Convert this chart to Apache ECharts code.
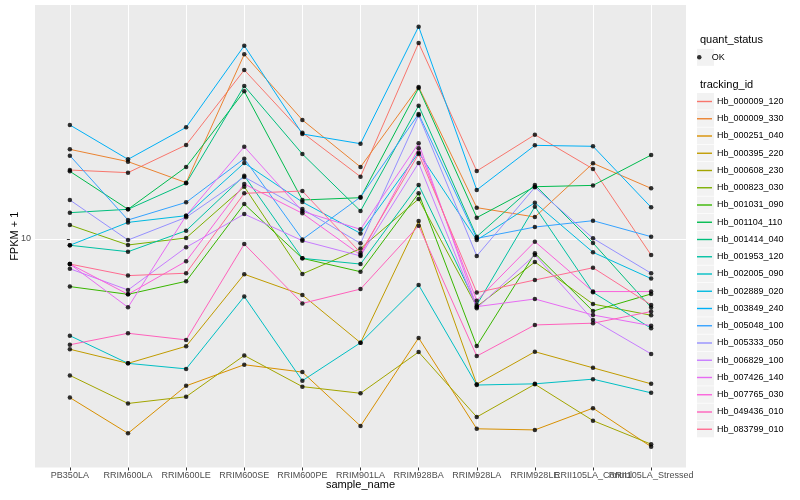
<!DOCTYPE html>
<html><head><meta charset="utf-8">
<script src="https://cdn.jsdelivr.net/npm/echarts@6/dist/echarts.min.js"></script>
<style>html,body{margin:0;padding:0;background:#fff}#c{width:800px;height:500px}</style>
</head><body><div id="c"></div>
<script>
const categories = ['PB350LA','RRIM600LA','RRIM600LE','RRIM600SE','RRIM600PE','RRIM901LA','RRIM928BA','RRIM928LA','RRIM928LE','RRII105LA_Control','RRII105LA_Stressed'];
const trackingIds = ['Hb_000009_120','Hb_000009_330','Hb_000251_040','Hb_000395_220','Hb_000608_230','Hb_000823_030','Hb_001031_090','Hb_001104_110','Hb_001414_040','Hb_001953_120','Hb_002005_090','Hb_002889_020','Hb_003849_240','Hb_005048_100','Hb_005333_050','Hb_006829_100','Hb_007426_140','Hb_007765_030','Hb_049436_010','Hb_083799_010'];
const lineColors = ['#F8766D','#EA8331','#D89000','#C09B00','#A3A500','#7CAE00','#39B600','#00BB4E','#00BF7D','#00C1A3','#00BFC4','#00BAE0','#00B0F6','#35A2FF','#9590FF','#C77CFF','#E76BF3','#FA62DB','#FF62BC','#FF6C91'];
const quantStatus = ['OK'];

// FPKM + 1 per sample (order of categories)
const hb_000009_120 = [16.98, 16.64, 20.58, 36.60, 22.62, 16.13, 45.01, 16.85, 22.27, 17.12, 8.84];
const hb_000009_330 = [19.90, 18.11, 15.41, 41.26, 24.93, 17.38, 32.11, 12.72, 11.84, 17.88, 14.75];
const hb_000251_040 = [2.96, 2.25, 3.24, 3.81, 3.60, 2.38, 4.68, 2.33, 2.31, 2.73, 2.03];
const hb_000395_220 = [4.29, 3.85, 4.39, 7.63, 6.51, 4.51, 11.48, 3.28, 4.21, 3.72, 3.29];
const hb_000608_230 = [3.51, 2.83, 2.98, 4.09, 3.22, 3.06, 4.20, 2.55, 3.28, 2.48, 2.07];
const hb_000823_030 = [11.13, 9.55, 10.08, 14.94, 7.65, 9.29, 13.60, 5.95, 8.38, 6.07, 5.57];
const hb_001031_090 = [6.94, 6.54, 7.23, 13.08, 8.62, 7.78, 14.20, 4.40, 8.96, 5.75, 6.56];
const hb_001104_110 = [16.81, 12.56, 17.38, 31.06, 13.49, 13.73, 31.86, 11.78, 14.94, 15.09, 19.05];
const hb_001414_040 = [12.24, 12.56, 15.33, 32.36, 19.20, 12.40, 27.83, 10.18, 15.14, 9.70, 5.91];
const hb_001953_120 = [9.53, 9.07, 10.66, 16.26, 8.62, 8.25, 15.14, 6.03, 12.82, 6.64, 5.04];
const hb_002005_090 = [4.76, 3.85, 3.69, 6.43, 3.37, 4.51, 7.03, 3.26, 3.29, 3.41, 3.07];
const hb_002889_020 = [9.53, 11.36, 11.96, 17.92, 13.28, 10.44, 19.40, 9.92, 13.21, 9.03, 7.38];
const hb_003849_240 = [23.99, 18.43, 23.56, 44.10, 22.39, 20.78, 51.04, 14.57, 20.52, 20.37, 12.75];
const hb_005048_100 = [18.96, 11.57, 13.25, 18.53, 9.97, 13.80, 26.10, 10.05, 10.96, 11.51, 10.18];
const hb_005333_050 = [13.49, 9.92, 11.81, 16.09, 12.59, 9.67, 25.84, 8.78, 14.87, 10.05, 7.69];
const hb_006829_100 = [7.96, 6.76, 9.38, 12.11, 9.87, 8.78, 17.92, 5.88, 8.85, 5.37, 4.14];
const hb_007426_140 = [8.25, 5.92, 11.96, 20.31, 12.37, 10.77, 20.84, 5.95, 6.31, 5.58, 5.14];
const hb_007765_030 = [8.25, 6.54, 8.43, 15.25, 12.18, 8.85, 20.05, 6.23, 9.80, 6.68, 6.68];
const hb_049436_010 = [4.44, 4.85, 4.61, 9.62, 6.10, 6.81, 11.08, 4.07, 5.17, 5.24, 5.73];
const hb_083799_010 = [8.25, 7.55, 7.69, 14.20, 14.45, 9.00, 19.20, 6.63, 7.30, 8.02, 6.03];

const seriesValues = [hb_000009_120, hb_000009_330, hb_000251_040, hb_000395_220, hb_000608_230, hb_000823_030, hb_001031_090, hb_001104_110, hb_001414_040, hb_001953_120, hb_002005_090, hb_002889_020, hb_003849_240, hb_005048_100, hb_005333_050, hb_006829_100, hb_007426_140, hb_007765_030, hb_049436_010, hb_083799_010];
const yTicks = [10];

const FONT = 'Liberation Sans, Arial, sans-serif';
const catIdx = categories.map((c, i) => i);
// two interleaved axes so the overlapping last labels are all drawn (as in the reference)
const evenIdx = catIdx.filter(i => i % 2 === 0);
const oddIdx = catIdx.filter(i => i % 2 === 1);

const series = seriesValues.map((vals, s) => ({
  name: trackingIds[s],
  type: 'line',
  xAxisIndex: 0,
  data: vals.map((v, i) => [i, v]),
  symbol: 'none',
  showSymbol: false,
  lineStyle: { color: lineColors[s], width: 1 },
  itemStyle: { color: lineColors[s] },
  z: 2,
  silent: true
}));
const allPoints = [];
seriesValues.forEach(vals => vals.forEach((v, i) => allPoints.push([i, v])));
series.push({
  name: quantStatus[0],
  type: 'scatter',
  xAxisIndex: 0,
  data: allPoints,
  symbol: 'circle',
  symbolSize: 4.5,
  itemStyle: { color: '#000' },
  z: 5,
  silent: true
});

// legend key backgrounds (ggplot-style grey boxes)
const keyTop = 101.5, keyStep = 17.25;
const graphics = [{ type: 'rect', shape: { x: 697, y: 57.3 - 8.5, width: 17, height: 17 }, style: { fill: '#F2F2F2' }, z: 0 }];
trackingIds.forEach((t, i) => graphics.push({ type: 'rect', shape: { x: 697, y: keyTop + i * keyStep - 8.5, width: 17, height: 16.6 }, style: { fill: '#F2F2F2' }, z: 0 }));

function xAxisDef(idx, withName) {
  return {
    type: 'value', min: -0.6, max: 10.6, position: 'bottom', offset: 0,
    name: withName ? 'sample_name' : '', nameLocation: 'middle', nameGap: 12, nameMoveOverlap: false,
    nameTextStyle: { fontSize: 11, color: '#000', fontFamily: FONT },
    axisLine: { show: false },
    axisTick: { show: true, length: 3, lineStyle: { color: '#333', width: 1 }, customValues: idx },
    axisLabel: { customValues: idx, formatter: v => categories[Math.round(v)], fontSize: 9, color: '#4D4D4D', margin: 4, hideOverlap: false, fontFamily: FONT },
    splitLine: { show: true, lineStyle: { color: '#FFFFFF', width: 1 } },
    minorSplitLine: { show: false }
  };
}

const chart = echarts.init(document.getElementById('c'), null, { renderer: 'canvas' });
chart.setOption({
  animation: false,
  backgroundColor: '#fff',
  textStyle: { fontFamily: FONT },
  grid: { left: 35, right: 114, top: 5, bottom: 32.5, show: true, backgroundColor: '#EBEBEB', borderWidth: 0, containLabel: false, outerBoundsMode: 'none' },
  title: [
    { text: 'quant_status', left: 695, top: 29, textStyle: { fontSize: 11, fontWeight: 'normal', color: '#000', fontFamily: FONT } },
    { text: 'tracking_id', left: 695, top: 74, textStyle: { fontSize: 11, fontWeight: 'normal', color: '#000', fontFamily: FONT } }
  ],
  legend: [
    { data: quantStatus, orient: 'vertical', left: 697, top: 57.3 - 6, padding: 0, icon: 'circle', itemWidth: 15, itemHeight: 4.5,
      textStyle: { fontSize: 9, color: '#000', fontFamily: FONT, lineHeight: 12 }, selectedMode: false },
    { data: trackingIds, orient: 'vertical', left: 697, top: keyTop - 6, padding: 0, icon: 'rect', itemWidth: 15, itemHeight: 1.4,
      itemGap: keyStep - 12, textStyle: { fontSize: 9, color: '#000', fontFamily: FONT, lineHeight: 12 }, selectedMode: false }
  ],
  graphic: graphics,
  xAxis: [xAxisDef(evenIdx, true), xAxisDef(oddIdx, false)],
  yAxis: {
    type: 'log', logBase: 10, min: 1.731, max: 60.26,
    name: 'FPKM + 1', nameLocation: 'middle', nameGap: 15, nameRotate: 90, nameMoveOverlap: false,
    nameTextStyle: { fontSize: 11, color: '#000', fontFamily: FONT },
    axisLine: { show: false },
    axisTick: { show: true, length: 3, lineStyle: { color: '#333', width: 1 }, customValues: yTicks },
    axisLabel: { customValues: yTicks, fontSize: 9, color: '#4D4D4D', margin: 4, fontFamily: FONT, formatter: v => String(Math.round(v)) },
    splitLine: { show: true, lineStyle: { color: '#FFFFFF', width: 1 } }
  },
  series: series
});
</script>
</body></html>
